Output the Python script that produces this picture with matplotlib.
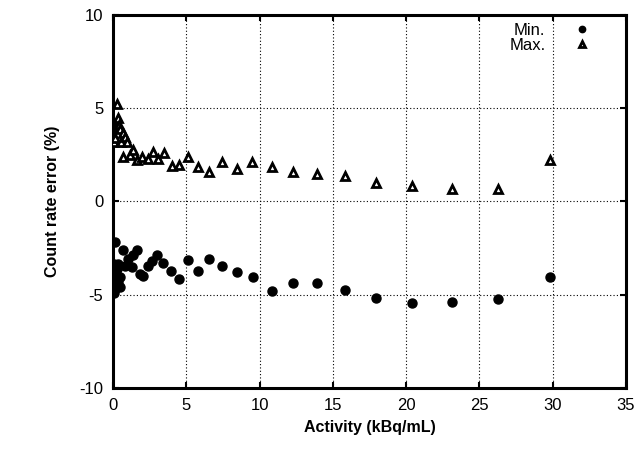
import matplotlib
matplotlib.use("Agg")
import matplotlib.pyplot as plt

plt.rcParams['font.family'] = ['Liberation Sans', 'DejaVu Sans']
plt.rcParams['axes.unicode_minus'] = False

# Max. series (triangles)
max_x = [0.1, 0.14, 0.2, 0.25, 0.32, 0.4, 0.48, 0.55, 0.7, 0.82, 0.93, 0.7,
         1.16, 1.39, 1.61, 1.95, 2.36, 2.75, 3.09, 3.5, 4.0, 4.5, 5.09, 5.8,
         6.54, 7.43, 8.43, 9.5, 10.86, 12.29, 13.95, 15.84, 17.97, 20.38,
         23.13, 26.25, 29.79]
max_y = [3.2, 3.4, 4.0, 5.2, 4.45, 4.1, 3.9, 3.2, 3.65, 3.45, 3.2, 2.38,
         2.47, 2.74, 2.2, 2.38, 2.26, 2.65, 2.29, 2.6, 1.9, 1.94, 2.38, 1.85,
         1.58, 2.11, 1.76, 2.1, 1.85, 1.6, 1.45, 1.34, 1.0, 0.81,
         0.68, 0.68, 2.2]

# Min. series (filled circles)
min_x = [0.1, 0.14, 0.14, 0.25, 0.36, 0.36, 0.48, 0.48, 0.14, 0.1, 0.7, 0.82,
         1.04, 1.27, 1.39, 1.61, 1.84, 2.07, 2.36, 2.64, 2.98, 3.43, 3.98,
         4.5, 5.09, 5.77, 6.54, 7.43, 8.43, 9.56, 10.86, 12.29, 13.95, 15.84,
         17.97, 20.38, 23.13, 26.25, 29.79]
min_y = [-4.9, -2.19, -3.89, -3.62, -3.35, -4.34, -4.07, -4.61, -4.7, -3.35,
         -2.63, -3.44, -3.08, -3.53, -2.9, -2.63, -3.89, -3.98, -3.44, -3.17,
         -2.9, -3.31, -3.73, -4.18, -3.15, -3.73, -3.08, -3.44, -3.76, -4.03,
         -4.78, -4.37, -4.39, -4.73, -5.2, -5.47, -5.38, -5.25, -4.07]

x_ticks = [0, 5, 10, 15, 20, 25, 30, 35]
y_ticks = [-10, -5, 0, 5, 10]

fig = plt.figure(figsize=(6.42, 4.5), dpi=100)
ax = fig.add_axes([0.176, 0.138, 0.799, 0.829])

ax.plot(min_x, min_y, linestyle='none', marker='o', markersize=6.5,
        color='black', label='Min.', zorder=3)
ax.plot(max_x, max_y, linestyle='none', marker='^', markersize=6.0,
        markerfacecolor='white', markeredgecolor='black', markeredgewidth=2.0,
        label='Max.', zorder=3)

ax.set_xlim(0, 35)
ax.set_ylim(-10, 10)
ax.set_xticks(x_ticks)
ax.set_yticks(y_ticks)
ax.tick_params(direction='in', length=4, width=1.5, top=True, right=True,
               labelsize=12, pad=7)
ax.grid(True, linestyle=(0, (1, 2)), color='black', linewidth=0.8)
ax.set_axisbelow(True)
for s in ax.spines.values():
    s.set_linewidth(2.2)

ax.set_xlabel('Activity (kBq/mL)', fontsize=11.5, fontweight='bold', labelpad=5)
ax.set_ylabel('Count rate error (%)', fontsize=11.5, fontweight='bold', labelpad=14)

leg = ax.legend(loc='upper right', bbox_to_anchor=(0.963, 1.01),
                markerfirst=False, frameon=False,
                fontsize=12, handletextpad=1.4, labelspacing=0.0,
                borderaxespad=0.3, markerscale=0.7, handlelength=1.6)

fig.savefig('out.png', dpi=100)
